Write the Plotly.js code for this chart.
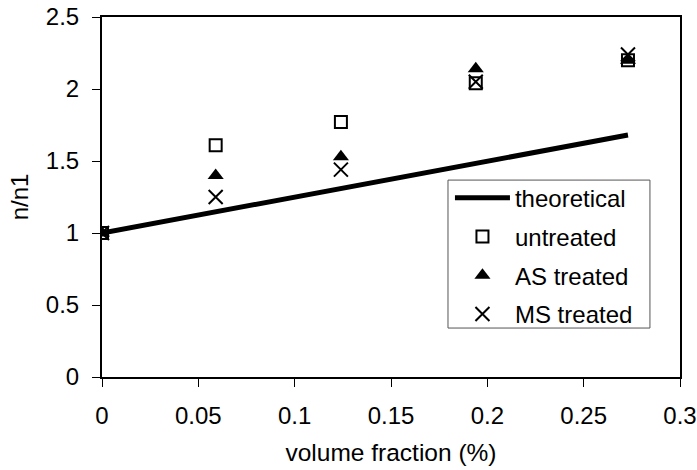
<!DOCTYPE html>
<html><head><meta charset="utf-8">
<script src="https://cdn.plot.ly/plotly-3.0.1.min.js"></script>
<style>html,body{margin:0;padding:0;background:#fff}#chart{width:697px;height:470px}</style>
</head><body><div id="chart"></div>
<script>
var xTheory = [0, 0.273];
var yTheory = [1.0, 1.68];
var xData = [0, 0.059, 0.124, 0.194, 0.273];
var untreated = [1.0, 1.61, 1.77, 2.04, 2.2];
var asTreated = [1.0, 1.40, 1.53, 2.14, 2.2];
var msTreated = [1.0, 1.25, 1.44, 2.05, 2.24];
var xTicks = [0, 0.05, 0.1, 0.15, 0.2, 0.25, 0.3];
var xTickText = ['0', '0.05', '0.1', '0.15', '0.2', '0.25', '0.3'];
var yTicks = [0, 0.5, 1, 1.5, 2, 2.5];
var yTickText = ['0', '0.5', '1', '1.5', '2', '2.5'];

var traces = [
  {x: xTheory, y: yTheory, mode: 'lines', name: 'theoretical', legendgroup: 'a',
   line: {color: '#000', width: 5}},
  {x: xData, y: untreated, mode: 'markers', name: 'untreated', legendgroup: 'b',
   marker: {symbol: 'square-open', size: 12, color: '#000', line: {width: 2, color: '#000'}}},
  {x: xData, y: asTreated, mode: 'markers', name: 'AS treated', legendgroup: 'c',
   marker: {symbol: 'triangle-up', size: 14, color: '#000', line: {width: 0}}},
  {x: xData, y: msTreated, mode: 'markers', name: 'MS treated', legendgroup: 'd',
   marker: {symbol: 'x-thin-open', size: 14, color: '#000', line: {width: 2, color: '#000'}}}
];

var layout = {
  width: 697, height: 470,
  margin: {l: 102, r: 17, t: 17, b: 93},
  paper_bgcolor: '#fff', plot_bgcolor: '#fff',
  font: {family: '"Liberation Sans", Arial, sans-serif', size: 24, color: '#000'},
  showlegend: true,
  legend: {x: 0.602, y: 0.559, xanchor: 'left', yanchor: 'top',
    borderwidth: 0, bgcolor: 'rgba(0,0,0,0)', itemwidth: 55,
    font: {size: 24, color: '#000'}, traceorder: 'grouped', tracegroupgap: 4.5},
  shapes: [{type: 'rect', xref: 'paper', yref: 'paper', x0: 0.5986, x1: 0.948, y0: 0.136, y1: 0.547,
    line: {color: '#555', width: 1}, fillcolor: '#fff', layer: 'below'}],
  xaxis: {range: [0, 0.3], tickvals: xTicks, ticktext: xTickText,
    showgrid: false, zeroline: false, showline: true, linecolor: '#000', linewidth: 2, mirror: true,
    ticks: 'outside', ticklen: 8, tickwidth: 1, tickcolor: '#000', ticklabelstandoff: 8,
    tickfont: {size: 24},
    title: {text: 'volume fraction (%)', font: {size: 24.5}, standoff: 16}},
  yaxis: {range: [0, 2.5], tickvals: yTicks, ticktext: yTickText,
    showgrid: false, zeroline: false, showline: true, linecolor: '#000', linewidth: 2, mirror: true,
    ticks: 'outside', ticklen: 8, tickwidth: 1, tickcolor: '#000', ticklabelstandoff: 8,
    tickfont: {size: 24},
    title: {text: 'n/n1', font: {size: 24}, standoff: 10}}
};

Plotly.newPlot('chart', traces, layout, {displayModeBar: false, staticPlot: true});
</script></body></html>
